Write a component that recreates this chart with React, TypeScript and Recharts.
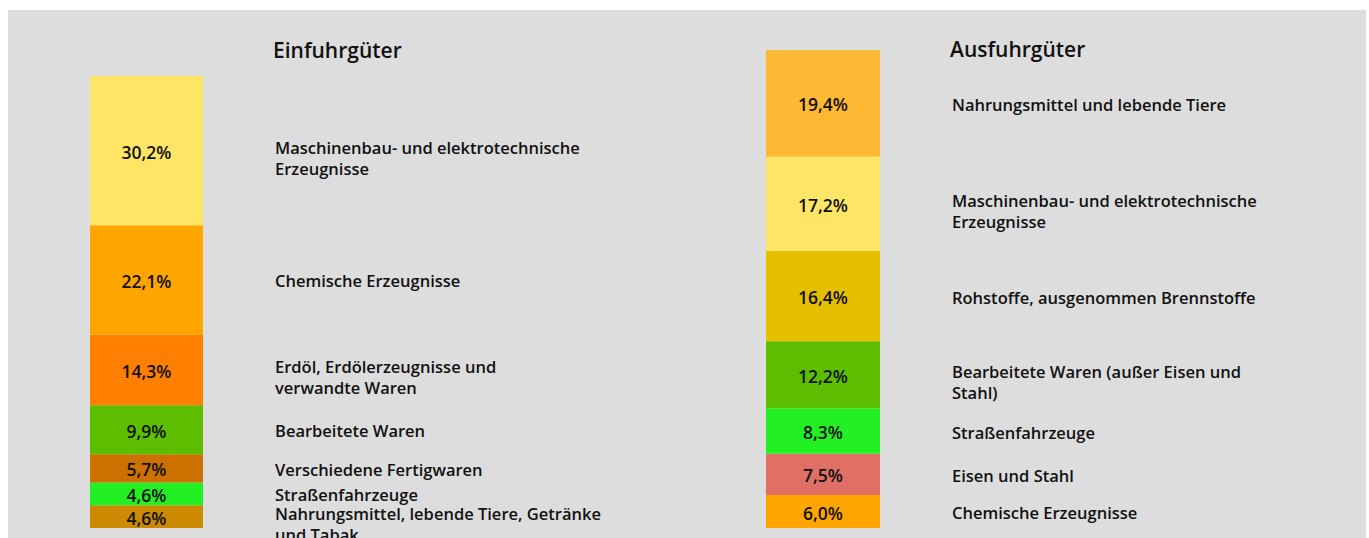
import React from 'react';
import { BarChart, Bar, XAxis, YAxis, LabelList } from 'recharts';

// Einfuhrgüter, von unten nach oben
const importNames = [
  'Nahrungsmittel, lebende Tiere, Getränke\nund Tabak',
  'Straßenfahrzeuge',
  'Verschiedene Fertigwaren',
  'Bearbeitete Waren',
  'Erdöl, Erdölerzeugnisse und\nverwandte Waren',
  'Chemische Erzeugnisse',
  'Maschinenbau- und elektrotechnische\nErzeugnisse',
];
const importValues = [4.6, 4.6, 5.7, 9.9, 14.3, 22.1, 30.2];
const importColors = ['#CC8A00', '#22F022', '#CC7000', '#5DBE00', '#FF7F00', '#FFA500', '#FFE566'];

// Ausfuhrgüter, von unten nach oben
const exportNames = [
  'Chemische Erzeugnisse',
  'Eisen und Stahl',
  'Straßenfahrzeuge',
  'Bearbeitete Waren (außer Eisen und\nStahl)',
  'Rohstoffe, ausgenommen Brennstoffe',
  'Maschinenbau- und elektrotechnische\nErzeugnisse',
  'Nahrungsmittel und lebende Tiere',
];
const exportValues = [6.0, 7.5, 8.3, 12.2, 16.4, 17.2, 19.4];
const exportColors = ['#FFA500', '#E07065', '#22F022', '#5DBE00', '#E6BF00', '#FFE566', '#FFB833'];

const FONT = '"Open Sans", "DejaVu Sans", sans-serif';

const fmt = (v: number) => v.toFixed(1).replace('.', ',') + '%';

const makeLabel = (name: string, textX: number) => (props: any) => {
  const { x, y, width, height, value } = props;
  const cy = y + height / 2;
  const lines = name.split('\n');
  return (
    <g>
      <text
        x={x + width / 2}
        y={cy + 1}
        textAnchor="middle"
        dominantBaseline="central"
        fontFamily={FONT}
        fontWeight={600}
        fontSize={17.5}
        fill="#111"
      >
        {fmt(value)}
      </text>
      <text fontFamily={FONT} fontWeight={600} fontSize={16.5} fill="#111">
        {lines.map((l, i) => (
          <tspan key={i} x={textX} y={cy + (lines.length > 1 ? -3 : 1) + i * 21} dominantBaseline="central">
            {l}
          </tspan>
        ))}
      </text>
    </g>
  );
};

interface StackProps {
  names: string[];
  values: number[];
  colors: string[];
  width: number;
  height: number;
  top: number;
  barLeft: number;
  barWidth: number;
  textX: number;
}

const Stack: React.FC<StackProps> = ({ names, values, colors, width, height, top, barLeft, barWidth, textX }) => {
  const row: Record<string, any> = { cat: 'x' };
  values.forEach((v, i) => (row['s' + i] = v));
  const total = values.reduce((a, b) => a + b, 0);
  return (
    <BarChart
      width={width}
      height={height}
      data={[row]}
      margin={{ top, bottom: 10, left: barLeft, right: width - barLeft - barWidth }}
      barCategoryGap={0}
    >
      <XAxis dataKey="cat" hide />
      <YAxis hide domain={[0, total]} />
      {values.map((_, i) => (
        <Bar key={i} dataKey={'s' + i} stackId="a" fill={colors[i]} isAnimationActive={false}>
          <LabelList dataKey={'s' + i} content={makeLabel(names[i], textX) as any} />
        </Bar>
      ))}
    </BarChart>
  );
};

const titleStyle: React.CSSProperties = {
  position: 'absolute',
  fontFamily: FONT,
  fontWeight: 600,
  fontSize: 21,
  color: '#111',
  lineHeight: '26px',
};

export default function App() {
  return (
    <div style={{ position: 'absolute', left: 0, top: 0, width: 1369, height: 538, background: '#fff', overflow: 'hidden' }}>
      <div style={{ position: 'absolute', left: 8, top: 10, width: 1358, height: 528, background: '#DDDDDD' }} />
      <div style={{ ...titleStyle, left: 273, top: 37 }}>Einfuhrgüter</div>
      <div style={{ ...titleStyle, left: 950, top: 36 }}>Ausfuhrgüter</div>
      <div style={{ position: 'absolute', left: 8, top: 10 }}>
        <Stack
          names={importNames}
          values={importValues}
          colors={importColors}
          width={677}
          height={528}
          top={66}
          barLeft={82}
          barWidth={113}
          textX={267}
        />
      </div>
      <div style={{ position: 'absolute', left: 685, top: 10 }}>
        <Stack
          names={exportNames}
          values={exportValues}
          colors={exportColors}
          width={681}
          height={528}
          top={40}
          barLeft={81}
          barWidth={114}
          textX={267}
        />
      </div>
    </div>
  );
}
